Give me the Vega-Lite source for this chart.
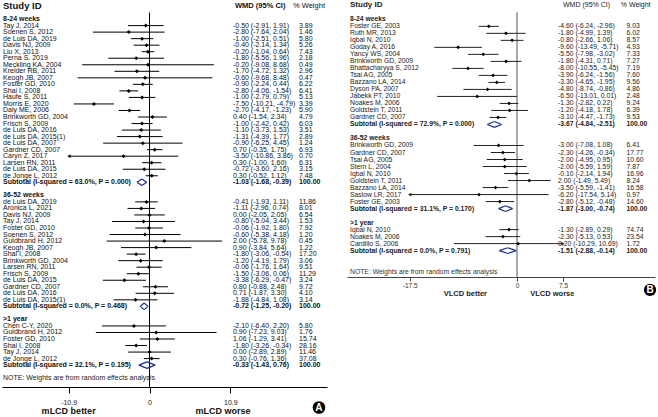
{
"$schema": "https://vega.github.io/schema/vega-lite/v6.json",
"background": "white",
"padding": {"left": 2, "top": 0, "right": 0, "bottom": 0},
"spacing": 20,
"config": {"view": {"stroke": null}, "font": "Liberation Sans"},
"datasets": {
"A": [
{"row":2,"kind":"group","label":"8-24 weeks"},
{"row":3,"kind":"study","label":"Tay J, 2014","est":-0.50,"lo":-2.91,"hi":1.91,"ci":"-0.50 (-2.91, 1.91)","w":"3.89"},
{"row":4,"kind":"study","label":"Soenen S, 2012","est":-2.80,"lo":-7.64,"hi":2.04,"ci":"-2.80 (-7.64, 2.04)","w":"1.46"},
{"row":5,"kind":"study","label":"de Luis DA, 2019","est":-1.00,"lo":-2.51,"hi":0.51,"ci":"-1.00 (-2.51, 0.51)","w":"5.80"},
{"row":6,"kind":"study","label":"Davis NJ, 2009","est":-0.40,"lo":-2.14,"hi":1.34,"ci":"-0.40 (-2.14, 1.34)","w":"5.26"},
{"row":7,"kind":"study","label":"Liu X, 2013","est":-0.20,"lo":-1.04,"hi":0.64,"ci":"-0.20 (-1.04, 0.64)","w":"7.43"},
{"row":8,"kind":"study","label":"Perna S, 2019","est":-1.80,"lo":-5.56,"hi":1.96,"ci":"-1.80 (-5.56, 1.96)","w":"2.18"},
{"row":9,"kind":"study","label":"Meckling KA, 2004","est":-0.20,"lo":-9.08,"hi":8.68,"ci":"-0.20 (-9.08, 8.68)","w":"0.49"},
{"row":10,"kind":"study","label":"Kreider RB, 2011","est":-1.70,"lo":-4.72,"hi":1.32,"ci":"-1.70 (-4.72, 1.32)","w":"2.96"},
{"row":11,"kind":"study","label":"Keogh JB, 2007","est":-0.60,"lo":-9.68,"hi":8.48,"ci":"-0.60 (-9.68, 8.48)","w":"0.47"},
{"row":12,"kind":"study","label":"Foster GD, 2010","est":-0.90,"lo":-2.24,"hi":0.44,"ci":"-0.90 (-2.24, 0.44)","w":"6.22"},
{"row":13,"kind":"study","label":"Shai I, 2008","est":-2.80,"lo":-4.06,"hi":-1.54,"ci":"-2.80 (-4.06, -1.54)","w":"6.41"},
{"row":14,"kind":"study","label":"Haufe S, 2011","est":-1.00,"lo":-2.79,"hi":0.79,"ci":"-1.00 (-2.79, 0.79)","w":"5.13"},
{"row":15,"kind":"study","label":"Morris E, 2020","est":-7.50,"lo":-10.21,"hi":-4.79,"ci":"-7.50 (-10.21, -4.79)","w":"3.39"},
{"row":16,"kind":"study","label":"Daly ME, 2006","est":-2.70,"lo":-4.17,"hi":-1.23,"ci":"-2.70 (-4.17, -1.23)","w":"5.90"},
{"row":17,"kind":"study","label":"Brinkworth GD, 2004","est":0.40,"lo":-1.54,"hi":2.34,"ci":"0.40 (-1.54, 2.34)","w":"4.79"},
{"row":18,"kind":"study","label":"Frisch S, 2009","est":-1.00,"lo":-2.42,"hi":0.42,"ci":"-1.00 (-2.42, 0.42)","w":"6.03"},
{"row":19,"kind":"study","label":"de Luis DA, 2016","est":-1.10,"lo":-3.73,"hi":1.53,"ci":"-1.10 (-3.73, 1.53)","w":"3.51"},
{"row":20,"kind":"study","label":"de Luis DA, 2015(1)","est":-1.31,"lo":-4.39,"hi":1.77,"ci":"-1.31 (-4.39, 1.77)","w":"2.89"},
{"row":21,"kind":"study","label":"de Luis DA, 2007","est":-0.90,"lo":-6.25,"hi":4.45,"ci":"-0.90 (-6.25, 4.45)","w":"1.24"},
{"row":22,"kind":"study","label":"Gardner CD, 2007","est":0.70,"lo":-0.35,"hi":1.75,"ci":"0.70 (-0.35, 1.75)","w":"6.93"},
{"row":23,"kind":"study","label":"Caryn Z, 2017","est":-3.50,"lo":-10.86,"hi":3.86,"ci":"-3.50 (-10.86, 3.86)","w":"0.70"},
{"row":24,"kind":"study","label":"Larsen RN, 2011","est":0.30,"lo":-1.00,"hi":1.60,"ci":"0.30 (-1.00, 1.60)","w":"6.31"},
{"row":25,"kind":"study","label":"de Luis DA, 2015","est":-0.72,"lo":-3.60,"hi":2.16,"ci":"-0.72 (-3.60, 2.16)","w":"3.15"},
{"row":26,"kind":"study","label":"de Jonge L, 2012","est":0.30,"lo":-0.52,"hi":1.12,"ci":"0.30 (-0.52, 1.12)","w":"7.48"},
{"row":27,"kind":"subtotal","label":"Subtotal  (I-squared = 63.0%, P = 0.000)","est":-1.03,"lo":-1.68,"hi":-0.39,"ci":"-1.03 (-1.68, -0.39)","w":"100.00"},
{"row":29,"kind":"group","label":"36-52 weeks"},
{"row":30,"kind":"study","label":"de Luis DA, 2019","est":-0.41,"lo":-1.93,"hi":1.11,"ci":"-0.41 (-1.93, 1.11)","w":"11.86"},
{"row":31,"kind":"study","label":"Aronica L, 2021","est":-1.11,"lo":-2.96,"hi":0.74,"ci":"-1.11 (-2.96, 0.74)","w":"8.01"},
{"row":32,"kind":"study","label":"Davis NJ, 2009","est":0.00,"lo":-2.05,"hi":2.05,"ci":"0.00 (-2.05, 2.05)","w":"6.54"},
{"row":33,"kind":"study","label":"Tay J, 2014","est":-0.80,"lo":-5.04,"hi":3.44,"ci":"-0.80 (-5.04, 3.44)","w":"1.53"},
{"row":34,"kind":"study","label":"Foster GD, 2010","est":-0.06,"lo":-1.92,"hi":1.80,"ci":"-0.06 (-1.92, 1.80)","w":"7.92"},
{"row":35,"kind":"study","label":"Soenen S, 2012","est":-0.60,"lo":-5.38,"hi":4.18,"ci":"-0.60 (-5.38, 4.18)","w":"1.20"},
{"row":36,"kind":"study","label":"Guldbrand H, 2012","est":2.00,"lo":-5.78,"hi":9.78,"ci":"2.00 (-5.78, 9.78)","w":"0.45"},
{"row":37,"kind":"study","label":"Keogh JB, 2007","est":0.90,"lo":-3.84,"hi":5.64,"ci":"0.90 (-3.84, 5.64)","w":"1.22"},
{"row":38,"kind":"study","label":"Shai I, 2008","est":-1.80,"lo":-3.06,"hi":-0.54,"ci":"-1.80 (-3.06, -0.54)","w":"17.20"},
{"row":39,"kind":"study","label":"Brinkworth GD, 2004","est":-1.20,"lo":-4.19,"hi":1.79,"ci":"-1.20 (-4.19, 1.79)","w":"3.06"},
{"row":40,"kind":"study","label":"Larsen RN, 2011","est":-0.06,"lo":-1.76,"hi":1.64,"ci":"-0.06 (-1.76, 1.64)","w":"9.51"},
{"row":41,"kind":"study","label":"Frisch S, 2009","est":-1.50,"lo":-3.06,"hi":0.06,"ci":"-1.50 (-3.06, 0.06)","w":"11.29"},
{"row":42,"kind":"study","label":"de Luis DA, 2015","est":-3.38,"lo":-6.29,"hi":-0.47,"ci":"-3.38 (-6.29, -0.47)","w":"3.24"},
{"row":43,"kind":"study","label":"Gardner CD, 2007","est":0.80,"lo":-0.88,"hi":2.48,"ci":"0.80 (-0.88, 2.48)","w":"9.72"},
{"row":44,"kind":"study","label":"de Luis DA, 2016","est":0.71,"lo":-1.87,"hi":3.30,"ci":"0.71 (-1.87, 3.30)","w":"4.10"},
{"row":45,"kind":"study","label":"de Luis DA, 2015(1)","est":-1.88,"lo":-4.84,"hi":1.08,"ci":"-1.88 (-4.84, 1.08)","w":"3.14"},
{"row":46,"kind":"subtotal","label":"Subtotal  (I-squared = 0.0%, P = 0.468)","est":-0.72,"lo":-1.25,"hi":-0.20,"ci":"-0.72 (-1.25, -0.20)","w":"100.00"},
{"row":48,"kind":"group","label":">1 year"},
{"row":49,"kind":"study","label":"Chen C-Y, 2020","est":-2.10,"lo":-6.40,"hi":2.20,"ci":"-2.10 (-6.40, 2.20)","w":"5.80"},
{"row":50,"kind":"study","label":"Guldbrand H, 2012","est":0.90,"lo":-7.23,"hi":9.03,"ci":"0.90 (-7.23, 9.03)","w":"1.76"},
{"row":51,"kind":"study","label":"Foster GD, 2010","est":1.06,"lo":-1.29,"hi":3.41,"ci":"1.06 (-1.29, 3.41)","w":"15.74"},
{"row":52,"kind":"study","label":"Shai I, 2008","est":-1.80,"lo":-3.26,"hi":-0.34,"ci":"-1.80 (-3.26, -0.34)","w":"28.16"},
{"row":53,"kind":"study","label":"Tay J, 2014","est":0.00,"lo":-2.89,"hi":2.89,"ci":"0.00 (-2.89, 2.89)","w":"11.46"},
{"row":54,"kind":"study","label":"de Jonge L, 2012","est":0.30,"lo":-0.76,"hi":1.36,"ci":"0.30 (-0.76, 1.36)","w":"37.08"},
{"row":55,"kind":"subtotal","label":"Subtotal  (I-squared = 32.1%, P = 0.195)","est":-0.33,"lo":-1.43,"hi":0.76,"ci":"-0.33 (-1.43, 0.76)","w":"100.00"}
],
"B": [
{"row":2,"kind":"group","label":"8-24 weeks"},
{"row":3,"kind":"study","label":"Foster GE, 2003","est":-4.60,"lo":-6.24,"hi":-2.96,"ci":"-4.60 (-6.24, -2.96)","w":"9.03"},
{"row":4,"kind":"study","label":"Ruth MR, 2013","est":-1.80,"lo":-4.99,"hi":1.39,"ci":"-1.80 (-4.99, 1.39)","w":"6.02"},
{"row":5,"kind":"study","label":"Iqbal N, 2010","est":-0.80,"lo":-2.66,"hi":1.06,"ci":"-0.80 (-2.66, 1.06)","w":"8.57"},
{"row":6,"kind":"study","label":"Goday A, 2016","est":-9.60,"lo":-13.49,"hi":-5.71,"ci":"-9.60 (-13.49, -5.71)","w":"4.93"},
{"row":7,"kind":"study","label":"Yancy WS, 2004","est":-5.50,"lo":-7.98,"hi":-3.02,"ci":"-5.50 (-7.98, -3.02)","w":"7.33"},
{"row":8,"kind":"study","label":"Brinkworth GD, 2009","est":-1.80,"lo":-4.31,"hi":0.71,"ci":"-1.80 (-4.31, 0.71)","w":"7.27"},
{"row":9,"kind":"study","label":"Bhattacharyya S, 2012","est":-8.00,"lo":-10.55,"hi":-5.45,"ci":"-8.00 (-10.55, -5.45)","w":"7.19"},
{"row":10,"kind":"study","label":"Tsai AG, 2005","est":-3.90,"lo":-6.24,"hi":-1.56,"ci":"-3.90 (-6.24, -1.56)","w":"7.60"},
{"row":11,"kind":"study","label":"Bazzano LA, 2014","est":-3.30,"lo":-4.65,"hi":-1.95,"ci":"-3.30 (-4.65, -1.95)","w":"9.56"},
{"row":12,"kind":"study","label":"Dyson PA, 2007","est":-4.80,"lo":-8.74,"hi":-0.86,"ci":"-4.80 (-8.74, -0.86)","w":"4.86"},
{"row":13,"kind":"study","label":"Jabekk PT, 2010","est":-6.50,"lo":-13.01,"hi":0.01,"ci":"-6.50 (-13.01, 0.01)","w":"2.48"},
{"row":14,"kind":"study","label":"Noakes M, 2006","est":-1.30,"lo":-2.82,"hi":0.22,"ci":"-1.30 (-2.82, 0.22)","w":"9.24"},
{"row":15,"kind":"study","label":"Goldstein T, 2011","est":-1.20,"lo":-4.18,"hi":1.78,"ci":"-1.20 (-4.18, 1.78)","w":"6.39"},
{"row":16,"kind":"study","label":"Gardner CD, 2007","est":-3.10,"lo":-4.47,"hi":-1.73,"ci":"-3.10 (-4.47, -1.73)","w":"9.53"},
{"row":17,"kind":"subtotal","label":"Subtotal  (I-squared = 72.9%, P = 0.000)","est":-3.67,"lo":-4.84,"hi":-2.51,"ci":"-3.67 (-4.84, -2.51)","w":"100.00"},
{"row":19,"kind":"group","label":"36-52 weeks"},
{"row":20,"kind":"study","label":"Brinkworth GD, 2009","est":-3.00,"lo":-7.08,"hi":1.08,"ci":"-3.00 (-7.08, 1.08)","w":"6.41"},
{"row":21,"kind":"study","label":"Gardner CD, 2007","est":-2.30,"lo":-4.26,"hi":-0.34,"ci":"-2.30 (-4.26, -0.34)","w":"17.77"},
{"row":22,"kind":"study","label":"Tsai AG, 2005","est":-2.00,"lo":-4.95,"hi":0.95,"ci":"-2.00 (-4.95, 0.95)","w":"10.60"},
{"row":23,"kind":"study","label":"Stern L, 2004","est":-2.00,"lo":-5.59,"hi":1.59,"ci":"-2.00 (-5.59, 1.59)","w":"7.87"},
{"row":24,"kind":"study","label":"Iqbal N, 2010","est":-0.10,"lo":-2.14,"hi":1.94,"ci":"-0.10 (-2.14, 1.94)","w":"16.96"},
{"row":25,"kind":"study","label":"Goldstein T, 2011","est":2.00,"lo":-1.49,"hi":5.49,"ci":"2.00 (-1.49, 5.49)","w":"8.24"},
{"row":26,"kind":"study","label":"Bazzano LA, 2014","est":-3.50,"lo":-5.59,"hi":-1.41,"ci":"-3.50 (-5.59, -1.41)","w":"16.58"},
{"row":27,"kind":"study","label":"Saslow LR, 2017","est":-6.20,"lo":-17.54,"hi":5.14,"ci":"-6.20 (-17.54, 5.14)","w":"0.97"},
{"row":28,"kind":"study","label":"Foster GE, 2003","est":-2.80,"lo":-5.12,"hi":-0.48,"ci":"-2.80 (-5.12, -0.48)","w":"14.60"},
{"row":29,"kind":"subtotal","label":"Subtotal  (I-squared = 31.1%, P = 0.170)","est":-1.87,"lo":-3.00,"hi":-0.74,"ci":"-1.87 (-3.00, -0.74)","w":"100.00"},
{"row":31,"kind":"group","label":">1 year"},
{"row":32,"kind":"study","label":"Iqbal N, 2010","est":-1.30,"lo":-2.89,"hi":0.29,"ci":"-1.30 (-2.89, 0.29)","w":"74.74"},
{"row":33,"kind":"study","label":"Noakes M, 2006","est":-2.30,"lo":-5.13,"hi":0.53,"ci":"-2.30 (-5.13, 0.53)","w":"23.54"},
{"row":34,"kind":"study","label":"Cardillo S, 2006","est":0.20,"lo":-10.29,"hi":10.69,"ci":"0.20 (-10.29, 10.69)","w":"1.72"},
{"row":35,"kind":"subtotal","label":"Subtotal  (I-squared = 0.0%, P = 0.791)","est":-1.51,"lo":-2.88,"hi":-0.14,"ci":"-1.51 (-2.88, -0.14)","w":"100.00"}
]
},
"hconcat": [
{
"width": 325, "height": 387,
"data": {"name": "A"},
"layer": [
{"data": {"values": [{}]}, "mark": {"type": "rule", "color": "black", "strokeWidth": 1},
 "encoding": {
  "x": {"datum": 0, "type": "quantitative", "scale": {"domain": [-19.879, 23.922], "nice": false, "zero": false},
        "axis": {"values": [-10.9, 0, 10.9], "title": null, "grid": false, "domainColor": "black", "domainWidth": 1, "tickColor": "black", "tickSize": 6, "labelFontSize": 7, "labelColor": "#222", "labelPadding": 5, "labelFlush": false,
                 "labelExpr": "datum.value < 0 ? '-' + format(-datum.value, '.1f') : (datum.value == 0 ? '0' : format(datum.value, '.1f'))"}},
  "y": {"datum": 1, "type": "quantitative", "scale": {"domain": [-0.92, 58.35], "reverse": true, "nice": false, "zero": false}, "axis": null},
  "y2": {"datum": 58.35}}},
{"transform": [{"filter": "datum.kind == 'study'"}], "mark": {"type": "rule", "color": "black", "strokeWidth": 1},
 "encoding": {"x": {"field": "lo", "type": "quantitative", "title": null}, "x2": {"field": "hi"}, "y": {"field": "row", "type": "quantitative", "axis": null}}},
{"transform": [{"filter": "datum.kind == 'study'"}], "mark": {"type": "point", "shape": "diamond", "filled": true, "color": "black", "size": 16, "opacity": 1},
 "encoding": {"x": {"field": "est", "type": "quantitative", "title": null}, "y": {"field": "row", "type": "quantitative", "axis": null}}},
{"transform": [{"filter": "datum.kind == 'study' && datum.lo < -10.8"}], "mark": {"type": "point", "shape": "triangle-left", "filled": true, "color": "black", "size": 14, "opacity": 1},
 "encoding": {"x": {"field": "lo", "type": "quantitative", "title": null}, "y": {"field": "row", "type": "quantitative", "axis": null}}},
{"transform": [{"filter": "datum.kind == 'subtotal'"}], "mark": {"type": "rule", "color": "#1c2e8c", "strokeWidth": 1.2, "y2Offset": -3.3},
 "encoding": {"x": {"field": "lo", "type": "quantitative", "title": null}, "x2": {"field": "est"}, "y": {"field": "row", "type": "quantitative", "axis": null}, "y2": {"field": "row"}}},
{"transform": [{"filter": "datum.kind == 'subtotal'"}], "mark": {"type": "rule", "color": "#1c2e8c", "strokeWidth": 1.2, "yOffset": -3.3},
 "encoding": {"x": {"field": "est", "type": "quantitative", "title": null}, "x2": {"field": "hi"}, "y": {"field": "row", "type": "quantitative", "axis": null}, "y2": {"field": "row"}}},
{"transform": [{"filter": "datum.kind == 'subtotal'"}], "mark": {"type": "rule", "color": "#1c2e8c", "strokeWidth": 1.2, "y2Offset": 3.3},
 "encoding": {"x": {"field": "hi", "type": "quantitative", "title": null}, "x2": {"field": "est"}, "y": {"field": "row", "type": "quantitative", "axis": null}, "y2": {"field": "row"}}},
{"transform": [{"filter": "datum.kind == 'subtotal'"}], "mark": {"type": "rule", "color": "#1c2e8c", "strokeWidth": 1.2, "yOffset": 3.3},
 "encoding": {"x": {"field": "est", "type": "quantitative", "title": null}, "x2": {"field": "lo"}, "y": {"field": "row", "type": "quantitative", "axis": null}, "y2": {"field": "row"}}},
{"transform": [{"filter": "datum.kind == 'study'"}], "mark": {"type": "text", "align": "left", "baseline": "middle", "fontSize": 7, "color": "#111"},
 "encoding": {"x": {"datum": -19.74, "type": "quantitative"}, "y": {"field": "row", "type": "quantitative", "axis": null}, "text": {"field": "label", "type": "nominal"}}},
{"transform": [{"filter": "datum.kind != 'study'"}], "mark": {"type": "text", "align": "left", "baseline": "middle", "fontSize": 7, "fontWeight": "bold", "color": "#111"},
 "encoding": {"x": {"datum": -19.74, "type": "quantitative"}, "y": {"field": "row", "type": "quantitative", "axis": null}, "text": {"field": "label", "type": "nominal"}}},
{"transform": [{"filter": "datum.kind == 'study'"}], "mark": {"type": "text", "align": "left", "baseline": "middle", "fontSize": 7, "color": "#111"},
 "encoding": {"x": {"datum": 11.25, "type": "quantitative"}, "y": {"field": "row", "type": "quantitative", "axis": null}, "text": {"field": "ci", "type": "nominal"}}},
{"transform": [{"filter": "datum.kind == 'subtotal'"}], "mark": {"type": "text", "align": "left", "baseline": "middle", "fontSize": 7, "fontWeight": "bold", "color": "#111"},
 "encoding": {"x": {"datum": 11.25, "type": "quantitative"}, "y": {"field": "row", "type": "quantitative", "axis": null}, "text": {"field": "ci", "type": "nominal"}}},
{"transform": [{"filter": "datum.kind == 'study'"}], "mark": {"type": "text", "align": "left", "baseline": "middle", "fontSize": 7, "color": "#111"},
 "encoding": {"x": {"datum": 20.15, "type": "quantitative"}, "y": {"field": "row", "type": "quantitative", "axis": null}, "text": {"field": "w", "type": "nominal"}}},
{"transform": [{"filter": "datum.kind == 'subtotal'"}], "mark": {"type": "text", "align": "left", "baseline": "middle", "fontSize": 7, "fontWeight": "bold", "color": "#111"},
 "encoding": {"x": {"datum": 20.15, "type": "quantitative"}, "y": {"field": "row", "type": "quantitative", "axis": null}, "text": {"field": "w", "type": "nominal"}}},
{"data": {"values": [{}]}, "mark": {"type": "text", "align": "left", "baseline": "middle", "fontSize": 9.5, "fontWeight": "bold", "color": "#111", "text": "Study ID"},
 "encoding": {"x": {"datum": -19.74, "type": "quantitative"}, "y": {"datum": 0, "type": "quantitative", "axis": null}}},
{"data": {"values": [{}]}, "mark": {"type": "text", "align": "left", "baseline": "middle", "fontSize": 7.5, "fontWeight": "bold", "color": "#111", "text": "WMD (95% CI)"},
 "encoding": {"x": {"datum": 11.52, "type": "quantitative"}, "y": {"datum": 0, "type": "quantitative", "axis": null}}},
{"data": {"values": [{}]}, "mark": {"type": "text", "align": "left", "baseline": "middle", "fontSize": 7.5, "color": "#111", "text": "% Weight"},
 "encoding": {"x": {"datum": 19.34, "type": "quantitative"}, "y": {"datum": 0, "type": "quantitative", "axis": null}}},
{"data": {"values": [{}]}, "mark": {"type": "text", "align": "left", "baseline": "middle", "fontSize": 7, "color": "#222", "text": "NOTE: Weights are from random effects analysis"},
 "encoding": {"x": {"datum": -19.74, "type": "quantitative"}, "y": {"datum": 57, "type": "quantitative", "axis": null}}},
{"data": {"values": [{}]}, "mark": {"type": "text", "align": "center", "baseline": "middle", "fontSize": 9, "fontWeight": "bold", "color": "#111", "text": "mLCD better"},
 "encoding": {"x": {"datum": -10.9, "type": "quantitative"}, "y": {"datum": 62, "type": "quantitative", "axis": null}}},
{"data": {"values": [{}]}, "mark": {"type": "text", "align": "center", "baseline": "middle", "fontSize": 9, "fontWeight": "bold", "color": "#111", "text": "mLCD worse"},
 "encoding": {"x": {"datum": 9.9, "type": "quantitative"}, "y": {"datum": 62, "type": "quantitative", "axis": null}}},
{"data": {"values": [{}]}, "mark": {"type": "point", "shape": "circle", "filled": true, "color": "black", "size": 160, "opacity": 1},
 "encoding": {"x": {"datum": 22.84, "type": "quantitative"}, "y": {"datum": 61.49, "type": "quantitative", "axis": null}}},
{"data": {"values": [{}]}, "mark": {"type": "text", "align": "center", "baseline": "middle", "fontSize": 10, "fontWeight": "bold", "color": "white", "text": "A"},
 "encoding": {"x": {"datum": 22.84, "type": "quantitative"}, "y": {"datum": 61.49, "type": "quantitative", "axis": null}}}
]
},
{
"width": 308, "height": 277,
"data": {"name": "B"},
"layer": [
{"data": {"values": [{}]}, "mark": {"type": "rule", "color": "#555", "strokeWidth": 1},
 "encoding": {
  "x": {"datum": 0, "type": "quantitative", "scale": {"domain": [-27.73, 22.51], "nice": false, "zero": false},
        "axis": {"values": [-17.5, 0, 7.5], "title": null, "grid": false, "domainColor": "#444", "domainWidth": 1, "tickColor": "#444", "tickSize": 4, "labelFontSize": 6.5, "labelColor": "#333", "labelPadding": 1, "labelFlush": false,
                 "labelExpr": "datum.value < 0 ? '-' + format(-datum.value, '.1f') : (datum.value == 0 ? '0' : format(datum.value, '.1f'))"}},
  "y": {"datum": 1, "type": "quantitative", "scale": {"domain": [-0.756, 38.76], "reverse": true, "nice": false, "zero": false}, "axis": null},
  "y2": {"datum": 38.76}}},
{"transform": [{"filter": "datum.kind == 'study' && datum.lo >= -17.5 && datum.hi <= 7.5"}], "mark": {"type": "rule", "color": "#222", "strokeWidth": 1},
 "encoding": {"x": {"field": "lo", "type": "quantitative", "title": null}, "x2": {"field": "hi"}, "y": {"field": "row", "type": "quantitative", "axis": null}}},
{"transform": [{"filter": "datum.kind == 'study' && datum.lo < -17.5"}], "mark": {"type": "rule", "color": "#222", "strokeWidth": 1},
 "encoding": {"x": {"field": "hi", "type": "quantitative", "title": null}, "x2": {"datum": -17.5}, "y": {"field": "row", "type": "quantitative", "axis": null}}},
{"transform": [{"filter": "datum.kind == 'study' && datum.hi > 7.5"}], "mark": {"type": "rule", "color": "#222", "strokeWidth": 1},
 "encoding": {"x": {"field": "lo", "type": "quantitative", "title": null}, "x2": {"datum": 7.5}, "y": {"field": "row", "type": "quantitative", "axis": null}}},
{"transform": [{"filter": "datum.kind == 'study' && datum.lo < -17.5"}], "mark": {"type": "point", "shape": "triangle-left", "filled": true, "color": "#222", "size": 14, "opacity": 1},
 "encoding": {"x": {"datum": -17.5, "type": "quantitative"}, "y": {"field": "row", "type": "quantitative", "axis": null}}},
{"transform": [{"filter": "datum.kind == 'study' && datum.hi > 7.5"}], "mark": {"type": "point", "shape": "triangle-right", "filled": true, "color": "#222", "size": 14, "opacity": 1},
 "encoding": {"x": {"datum": 7.5, "type": "quantitative"}, "y": {"field": "row", "type": "quantitative", "axis": null}}},
{"transform": [{"filter": "datum.kind == 'study'"}], "mark": {"type": "point", "shape": "diamond", "filled": true, "color": "black", "size": 14, "opacity": 1},
 "encoding": {"x": {"field": "est", "type": "quantitative", "title": null}, "y": {"field": "row", "type": "quantitative", "axis": null}}},
{"transform": [{"filter": "datum.kind == 'subtotal'"}], "mark": {"type": "rule", "color": "#1c2e8c", "strokeWidth": 1.2, "y2Offset": -2.9},
 "encoding": {"x": {"field": "lo", "type": "quantitative", "title": null}, "x2": {"field": "est"}, "y": {"field": "row", "type": "quantitative", "axis": null}, "y2": {"field": "row"}}},
{"transform": [{"filter": "datum.kind == 'subtotal'"}], "mark": {"type": "rule", "color": "#1c2e8c", "strokeWidth": 1.2, "yOffset": -2.9},
 "encoding": {"x": {"field": "est", "type": "quantitative", "title": null}, "x2": {"field": "hi"}, "y": {"field": "row", "type": "quantitative", "axis": null}, "y2": {"field": "row"}}},
{"transform": [{"filter": "datum.kind == 'subtotal'"}], "mark": {"type": "rule", "color": "#1c2e8c", "strokeWidth": 1.2, "y2Offset": 2.9},
 "encoding": {"x": {"field": "hi", "type": "quantitative", "title": null}, "x2": {"field": "est"}, "y": {"field": "row", "type": "quantitative", "axis": null}, "y2": {"field": "row"}}},
{"transform": [{"filter": "datum.kind == 'subtotal'"}], "mark": {"type": "rule", "color": "#1c2e8c", "strokeWidth": 1.2, "yOffset": 2.9},
 "encoding": {"x": {"field": "est", "type": "quantitative", "title": null}, "x2": {"field": "lo"}, "y": {"field": "row", "type": "quantitative", "axis": null}, "y2": {"field": "row"}}},
{"transform": [{"filter": "datum.kind == 'study'"}], "mark": {"type": "text", "align": "left", "baseline": "middle", "fontSize": 6.8, "color": "#222"},
 "encoding": {"x": {"datum": -27.24, "type": "quantitative"}, "y": {"field": "row", "type": "quantitative", "axis": null}, "text": {"field": "label", "type": "nominal"}}},
{"transform": [{"filter": "datum.kind != 'study'"}], "mark": {"type": "text", "align": "left", "baseline": "middle", "fontSize": 6.8, "fontWeight": "bold", "color": "#222"},
 "encoding": {"x": {"datum": -27.24, "type": "quantitative"}, "y": {"field": "row", "type": "quantitative", "axis": null}, "text": {"field": "label", "type": "nominal"}}},
{"transform": [{"filter": "datum.kind == 'study'"}], "mark": {"type": "text", "align": "left", "baseline": "middle", "fontSize": 6.8, "color": "#222"},
 "encoding": {"x": {"datum": 6.69, "type": "quantitative"}, "y": {"field": "row", "type": "quantitative", "axis": null}, "text": {"field": "ci", "type": "nominal"}}},
{"transform": [{"filter": "datum.kind == 'subtotal'"}], "mark": {"type": "text", "align": "left", "baseline": "middle", "fontSize": 6.8, "fontWeight": "bold", "color": "#222"},
 "encoding": {"x": {"datum": 6.69, "type": "quantitative"}, "y": {"field": "row", "type": "quantitative", "axis": null}, "text": {"field": "ci", "type": "nominal"}}},
{"transform": [{"filter": "datum.kind == 'study'"}], "mark": {"type": "text", "align": "left", "baseline": "middle", "fontSize": 6.8, "color": "#222"},
 "encoding": {"x": {"datum": 17.86, "type": "quantitative"}, "y": {"field": "row", "type": "quantitative", "axis": null}, "text": {"field": "w", "type": "nominal"}}},
{"transform": [{"filter": "datum.kind == 'subtotal'"}], "mark": {"type": "text", "align": "left", "baseline": "middle", "fontSize": 6.8, "fontWeight": "bold", "color": "#222"},
 "encoding": {"x": {"datum": 17.86, "type": "quantitative"}, "y": {"field": "row", "type": "quantitative", "axis": null}, "text": {"field": "w", "type": "nominal"}}},
{"data": {"values": [{}]}, "mark": {"type": "text", "align": "left", "baseline": "middle", "fontSize": 8, "fontWeight": "bold", "color": "#222", "text": "Study ID"},
 "encoding": {"x": {"datum": -27.24, "type": "quantitative"}, "y": {"datum": 0, "type": "quantitative", "axis": null}}},
{"data": {"values": [{}]}, "mark": {"type": "text", "align": "left", "baseline": "middle", "fontSize": 7, "color": "#222", "text": "WMD (95% CI)"},
 "encoding": {"x": {"datum": 7.5, "type": "quantitative"}, "y": {"datum": 0, "type": "quantitative", "axis": null}}},
{"data": {"values": [{}]}, "mark": {"type": "text", "align": "left", "baseline": "middle", "fontSize": 7, "color": "#222", "text": "% Weight"},
 "encoding": {"x": {"datum": 16.92, "type": "quantitative"}, "y": {"datum": 0, "type": "quantitative", "axis": null}}},
{"data": {"values": [{}]}, "mark": {"type": "text", "align": "left", "baseline": "middle", "fontSize": 6.8, "color": "#333", "text": "NOTE: Weights are from random effects analysis"},
 "encoding": {"x": {"datum": -27.24, "type": "quantitative"}, "y": {"datum": 38, "type": "quantitative", "axis": null}}},
{"data": {"values": [{}]}, "mark": {"type": "text", "align": "center", "baseline": "middle", "fontSize": 7.5, "fontWeight": "bold", "color": "#222", "text": "VLCD better"},
 "encoding": {"x": {"datum": -8.43, "type": "quantitative"}, "y": {"datum": 41.25, "type": "quantitative", "axis": null}}},
{"data": {"values": [{}]}, "mark": {"type": "text", "align": "center", "baseline": "middle", "fontSize": 7.5, "fontWeight": "bold", "color": "#222", "text": "VLCD worse"},
 "encoding": {"x": {"datum": 5.76, "type": "quantitative"}, "y": {"datum": 41.25, "type": "quantitative", "axis": null}}},
{"data": {"values": [{}]}, "mark": {"type": "point", "shape": "circle", "filled": true, "color": "black", "size": 150, "opacity": 1},
 "encoding": {"x": {"datum": 21.7, "type": "quantitative"}, "y": {"datum": 40.6, "type": "quantitative", "axis": null}}},
{"data": {"values": [{}]}, "mark": {"type": "text", "align": "center", "baseline": "middle", "fontSize": 10, "fontWeight": "bold", "color": "white", "text": "B"},
 "encoding": {"x": {"datum": 21.7, "type": "quantitative"}, "y": {"datum": 40.6, "type": "quantitative", "axis": null}}}
]
}
]
}
